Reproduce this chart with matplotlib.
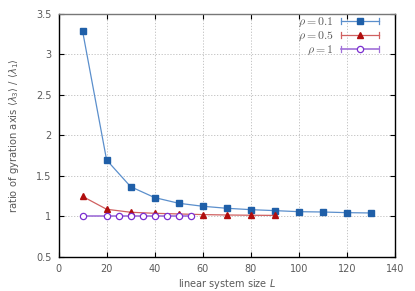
import matplotlib
matplotlib.use('Agg')
import matplotlib.pyplot as plt
from matplotlib.legend_handler import HandlerLine2D
from matplotlib.lines import Line2D

# data
L_01 = [10, 20, 30, 40, 50, 60, 70, 80, 90, 100, 110, 120, 130]
r_01 = [3.29, 1.695, 1.365, 1.23, 1.16, 1.123, 1.098, 1.081, 1.069, 1.056, 1.052, 1.044, 1.040]
L_05 = [10, 20, 30, 40, 50, 60, 70, 80, 90]
r_05 = [1.245, 1.086, 1.049, 1.036, 1.028, 1.02, 1.015, 1.012, 1.01]
L_1 = [10, 20, 25, 30, 35, 40, 45, 50, 55]
r_1 = [1.0, 1.0, 1.0, 1.0, 1.0, 1.0, 1.0, 1.0, 1.0]


class CapHandler(HandlerLine2D):
    # gnuplot style key: line with small end caps
    def create_artists(self, legend, orig, xdescent, ydescent, width, height, fontsize, trans):
        arts = super().create_artists(legend, orig, xdescent, ydescent, width, height, fontsize, trans)
        yc = height / 2 - ydescent
        for xe in (-xdescent, width - xdescent):
            cap = Line2D([xe, xe], [yc - 2, yc + 2], color=orig.get_color(), lw=0.9)
            cap.set_transform(trans)
            arts.append(cap)
        return arts


plt.rcParams['font.family'] = ['DejaVu Sans']
plt.rcParams['mathtext.fontset'] = 'dejavusans'
txt = '#5a5a5a'

fig = plt.figure(figsize=(4.15, 2.91), dpi=100)
ax = fig.add_axes([0.141, 0.118, 0.811, 0.834])

ax.plot(L_01, r_01, color='#5b8fcc', lw=0.9, marker='s', ms=5,
        mfc='#1f5fa8', mec='#1f5fa8', label=r'$\rho = 0.1$')
ax.plot(L_05, r_05, color='#d06060', lw=0.9, marker='^', ms=4.5,
        mfc='#b00d0d', mec='#b00d0d', label=r'$\rho = 0.5$')
ax.plot(L_1, r_1, color='#a070d8', lw=1.2, marker='o', ms=4.5,
        mfc='white', mec='#7b2fd0', mew=0.9, label=r'$\rho = 1$')

ax.set_xlim(0, 140)
ax.set_ylim(0.5, 3.5)
ax.set_xticks(range(0, 141, 20))
ax.set_yticks([0.5, 1, 1.5, 2, 2.5, 3, 3.5])
ax.set_yticklabels(['0.5', '1', '1.5', '2', '2.5', '3', '3.5'])
ax.grid(True, color='#bbbbbb', ls=(0, (1.5, 2)), lw=0.6)
ax.tick_params(direction='in', top=True, right=True, length=3.5, width=0.8,
               labelsize=7, labelcolor=txt, pad=5)
for s in ax.spines.values():
    s.set_linewidth(1.0)
ax.spines['top'].set_color('#777777')

ax.set_xlabel(r'linear system size $L$', fontsize=7, color=txt)
ax.set_ylabel(r'ratio of gyration axis $\langle\lambda_3\rangle$ / $\langle\lambda_1\rangle$',
              fontsize=7.2, color=txt)
ax.xaxis.set_label_coords(0.5, -0.082)
ax.yaxis.set_label_coords(-0.11, 0.5)

leg = ax.legend(loc='upper right', bbox_to_anchor=(0.965, 1.015), frameon=False,
                markerfirst=False, fontsize=8.5, handlelength=3.2, handletextpad=0.6,
                labelspacing=0.0, borderaxespad=0.0, labelcolor=txt,
                handler_map={Line2D: CapHandler()})
for t in leg.get_texts():
    t.set_math_fontfamily('cm')

fig.savefig('out.png', dpi=100)
